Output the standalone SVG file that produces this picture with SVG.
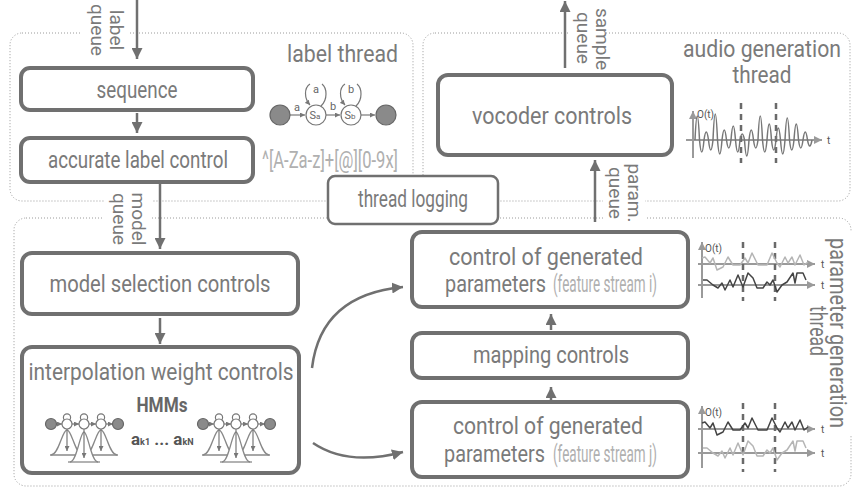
<svg xmlns="http://www.w3.org/2000/svg" width="853" height="489" viewBox="0 0 853 489">
<defs>
<style>
.t{font-family:Roboto,'Liberation Sans',sans-serif;fill:#7a7a7a;font-size:23px}
.box{fill:#fff;stroke:#707070;stroke-width:4}
.dot{fill:none;stroke:#9a9a9a;stroke-width:1;stroke-dasharray:1 2}
.arr{fill:none;stroke:#707070;stroke-width:2.5;marker-end:url(#ah)}
.sarr{fill:none;stroke:#777;stroke-width:1.2;marker-end:url(#sh)}
.q{font-size:19px}
.lt{fill:#b0b0b0}
.ax{fill:none;stroke:#9a9a9a;stroke-width:2;marker-end:url(#axh)}
.dash{fill:none;stroke:#6a6a6a;stroke-width:2.5;stroke-dasharray:6 5}
.sm{font-family:Roboto,'Liberation Sans',sans-serif;fill:#555;font-size:10px}
.wv{fill:none;stroke-width:1.5;stroke-linejoin:round}
.gc{fill:#8a8a8a;stroke:#666;stroke-width:1.2}
.wc{fill:#fff;stroke:#777;stroke-width:1.2}
</style>
<marker id="ah" viewBox="0 0 10 10" refX="10" refY="5" markerWidth="11" markerHeight="11" markerUnits="userSpaceOnUse" orient="auto"><path d="M0,0L10,5L0,10z" fill="#707070"/></marker>
<marker id="sh" viewBox="0 0 10 10" refX="10" refY="5" markerWidth="5" markerHeight="5" markerUnits="userSpaceOnUse" orient="auto"><path d="M0,0L10,5L0,10z" fill="#777"/></marker>
<marker id="axh" viewBox="0 0 10 10" refX="10" refY="5" markerWidth="8" markerHeight="8" markerUnits="userSpaceOnUse" orient="auto"><path d="M0,0L10,5L0,10z" fill="#9a9a9a"/></marker>
<path id="zA" d="M702,258 L705,257 L710,263 L713,258 L717,270 L723,267 L728,257 L733,265 L740,265 L745,258 L748,263 L752,253 L758,265 L767,265 L772,253 L777,263 L780,267 L785,257 L788,263 L792,257 L795,265 L800,255 L804,265 L808,262"/>
<path id="zB" d="M703,280 L707,280 L713,285 L718,288 L722,283 L725,290 L730,280 L733,287 L738,275 L743,287 L748,273 L753,278 L757,288 L763,288 L767,282 L770,285 L773,280 L777,292 L782,285 L787,282 L793,273 L795,283 L797,273 L803,273 L806,280"/>
<g id="hmmg">
<g fill="#fff" stroke="#888" stroke-width="1.3">
<path d="M51,455 C59,455 62,430 67,430 C72,430 75,455 83,455"/><path d="M50,455 H84" fill="none"/>
<path d="M85,455 C93,455 96,430 101,430 C106,430 109,455 117,455"/><path d="M84,455 H118" fill="none"/>
<path d="M70,462 C77,462 80,432 84,432 C88,432 91,462 98,462"/><path d="M68,462 H100" fill="none"/>
</g>
<path class="sarr" d="M67,429 V451"/><path class="sarr" d="M84,429 V458"/><path class="sarr" d="M101,429 V451"/>
<g fill="none" stroke="#777" stroke-width="1.2"><circle cx="67" cy="417.5" r="3.6"/><circle cx="84" cy="417.5" r="3.6"/><circle cx="101" cy="417.5" r="3.6"/></g>
<path class="sarr" d="M56,424 H62"/><path class="sarr" d="M72,424 H79"/><path class="sarr" d="M89,424 H96"/><path class="sarr" d="M106,424 H113"/>
<circle class="gc" cx="51" cy="424" r="5.5"/><circle class="gc" cx="118" cy="424" r="5.5"/>
<circle class="wc" cx="67" cy="424" r="5"/><circle class="wc" cx="84" cy="424" r="5"/><circle class="wc" cx="101" cy="424" r="5"/>
</g>
</defs>
<rect width="853" height="489" fill="#fff"/>

<g id="threads">
<rect class="dot" x="10" y="33" width="403" height="168" rx="12"/>
<rect class="dot" x="423" y="33" width="427" height="168" rx="12"/>
<rect class="dot" x="14" y="218" width="837" height="268" rx="12"/>
<rect x="82" y="0" width="46" height="62" fill="#fff"/>
<rect x="104" y="186" width="48" height="64" fill="#fff"/>
<rect x="568" y="0" width="36" height="72" fill="#fff"/>
<rect x="603" y="164" width="42" height="60" fill="#fff"/>
<rect x="806" y="232" width="47" height="204" fill="#fff"/>
<text class="t" x="398" y="62" text-anchor="end" font-size="22" textLength="111" lengthAdjust="spacingAndGlyphs">label thread</text>
<text class="t" x="762" y="57" text-anchor="middle" textLength="158" lengthAdjust="spacingAndGlyphs">audio generation</text>
<text class="t" x="762" y="83" text-anchor="middle" textLength="59" lengthAdjust="spacingAndGlyphs">thread</text>
<g transform="rotate(90)">
<text class="t" x="333" y="-830" text-anchor="middle" font-size="22" textLength="190" lengthAdjust="spacingAndGlyphs">parameter generation</text>
<text class="t" x="331" y="-810" text-anchor="middle" font-size="22" textLength="50" lengthAdjust="spacingAndGlyphs">thread</text>
</g>
</g>

<g id="connectors">
<path class="arr" d="M137,0 V59"/>
<path class="arr" d="M137,113 V133"/>
<path class="arr" d="M160,183 V249"/>
<path class="arr" d="M160,318 V344"/>
<path class="arr" d="M312,368 C318,318 350,292 403,287"/>
<path class="arr" d="M313,443 C335,458 365,462 403,452"/>
<path class="arr" d="M551,400 V387"/>
<path class="arr" d="M551,330 V314"/>
<path class="arr" d="M595,222 V160"/>
<path class="arr" d="M565,68 V1"/>
<g transform="rotate(90)">
<text class="t q" x="30" y="-110" text-anchor="middle">label</text>
<text class="t q" x="30" y="-91" text-anchor="middle">queue</text>
<text class="t q" x="219" y="-132" text-anchor="middle">model</text>
<text class="t q" x="219" y="-113" text-anchor="middle">queue</text>
<text class="t q" x="39" y="-596" text-anchor="middle">sample</text>
<text class="t q" x="38" y="-577" text-anchor="middle">queue</text>
<text class="t q" x="193" y="-628" text-anchor="middle">param.</text>
<text class="t q" x="193" y="-609" text-anchor="middle">queue</text>
</g>
</g>

<g id="sequence">
<rect class="box" x="21" y="68" width="232" height="42" rx="9"/>
<text class="t" x="137" y="98" text-anchor="middle" textLength="81" lengthAdjust="spacingAndGlyphs">sequence</text>
</g>
<g id="accurate-label-control">
<rect class="box" x="21" y="138" width="232" height="44" rx="9"/>
<text class="t" x="138" y="168" text-anchor="middle" textLength="180" lengthAdjust="spacingAndGlyphs">accurate label control</text>
</g>
<g id="regex">
<text class="t lt" x="330" y="168" text-anchor="middle" font-size="19" textLength="136" lengthAdjust="spacingAndGlyphs">^[A-Za-z]+[@][0-9x]</text>
</g>
<g id="state-diagram">
<path class="sarr" d="M290,115 H305"/>
<path class="sarr" d="M326,115 H340"/>
<path class="sarr" d="M361,115 H375"/>
<path fill="none" stroke="#777" stroke-width="1.2" d="M321,106 C328,99 327,88 322,84"/>
<path class="sarr" d="M310,84 C304,88 304,98 310,105"/>
<path fill="none" stroke="#777" stroke-width="1.2" d="M356,106 C363,99 362,88 357,84"/>
<path class="sarr" d="M345,84 C339,88 339,98 345,105"/>
<circle class="gc" cx="280" cy="115" r="10"/>
<circle class="wc" cx="316" cy="115" r="10"/>
<circle class="wc" cx="351" cy="115" r="10"/>
<circle class="gc" cx="386" cy="115" r="10"/>
<g font-family="Roboto,'Liberation Sans',sans-serif" fill="#666" text-anchor="middle">
<text x="315" y="119" font-size="11">S<tspan font-size="8">a</tspan></text>
<text x="350" y="119" font-size="11">S<tspan font-size="8">b</tspan></text>
<text x="297" y="111" font-size="11">a</text>
<text x="333" y="110" font-size="11">b</text>
<text x="316" y="93" font-size="11">a</text>
<text x="351" y="93" font-size="11">b</text>
</g>
</g>

<g id="model-selection-controls">
<rect class="box" x="22" y="253" width="276" height="61" rx="10"/>
<text class="t" x="160" y="292" text-anchor="middle" textLength="221" lengthAdjust="spacingAndGlyphs">model selection controls</text>
</g>
<g id="interpolation-weight-controls">
<rect class="box" x="22" y="347" width="277" height="126" rx="10"/>
<text class="t" x="161" y="380" text-anchor="middle" textLength="265" lengthAdjust="spacingAndGlyphs">interpolation weight controls</text>
<text x="162" y="412" text-anchor="middle" font-family="Roboto,'Liberation Sans',sans-serif" font-weight="bold" font-size="20" fill="#666" textLength="51" lengthAdjust="spacingAndGlyphs">HMMs</text>
<use href="#hmmg"/>
<use href="#hmmg" transform="translate(152,0)"/>
<text x="131" y="445" font-family="Roboto,'Liberation Sans',sans-serif" font-weight="bold" font-size="17" fill="#555">a<tspan font-size="9">k1</tspan> ... a<tspan font-size="9">kN</tspan></text>
</g>

<g id="thread-logging">
<rect x="328" y="176" width="170" height="48" rx="7" fill="#fff" stroke="#707070" stroke-width="2.5"/>
<text class="t" x="413" y="207" text-anchor="middle" font-size="21" textLength="110" lengthAdjust="spacingAndGlyphs">thread logging</text>
</g>

<g id="vocoder-controls">
<rect class="box" x="438" y="75" width="234" height="80" rx="10"/>
<text class="t" x="552" y="124" text-anchor="middle" font-size="26" textLength="160" lengthAdjust="spacingAndGlyphs">vocoder controls</text>
</g>
<g id="audio-plot">
<path class="ax" d="M693,158 V111"/>
<path class="ax" d="M686,140 H822"/>
<path class="dash" d="M741,103 V163"/>
<path class="dash" d="M776,103 V163"/>
<path class="wv" stroke="#777" stroke-width="1" d="M695,140 Q697.25,92 699.5,140 Q701.75,164 704,140 Q706.25,124 708.5,140 Q710.75,160 713,140 Q715.25,88 717.5,140 Q719.75,168 722,140 Q724.25,120 726.5,140 Q728.75,156 731,140 Q733.25,112 735.5,140 Q737.75,164 740,140 Q742.25,128 744.5,140 Q746.75,172 749,140 Q751.25,120 753.5,140 Q755.75,156 758,140 Q760.25,92 762.5,140 Q764.75,164 767,140 Q769.25,108 771.5,140 Q773.75,160 776,140 Q778.25,116 780.5,140 Q782.75,168 785,140 Q787.25,96 789.5,140 Q791.75,160 794,140 Q796.25,108 798.5,140 Q800.75,156 803,140 Q805.25,124 807.5,140 Q809.75,152 812,140"/>
<text class="sm" x="697" y="118">O(t)</text>
<text class="sm" x="827" y="144" font-size="11">t</text>
</g>

<g id="control-generated-i">
<rect class="box" x="412" y="232" width="276" height="75" rx="10"/>
<text class="t" x="546" y="265" text-anchor="middle" textLength="194" lengthAdjust="spacingAndGlyphs">control of generated</text>
<text class="t" x="445" y="292" textLength="101" lengthAdjust="spacingAndGlyphs">parameters</text>
<text class="t lt" x="553" y="292" font-size="16" textLength="104" lengthAdjust="spacingAndGlyphs">(feature stream i)</text>
</g>
<g id="plot-i">
<path class="ax" d="M702,298 V242"/>
<path class="ax" d="M698,264 H815"/>
<path class="ax" d="M698,285 H815"/>
<path class="dash" d="M743,242 V301"/>
<path class="dash" d="M775,242 V301"/>
<use href="#zA" class="wv" stroke="#b5b5b5"/>
<use href="#zB" class="wv" stroke="#444"/>
<text class="sm" x="705" y="252">O(t)</text>
<text class="sm" x="821" y="268" font-size="11">t</text>
<text class="sm" x="821" y="289" font-size="11">t</text>
</g>

<g id="mapping-controls">
<rect class="box" x="412" y="333" width="276" height="45" rx="10"/>
<text class="t" x="551" y="363" text-anchor="middle" textLength="156" lengthAdjust="spacingAndGlyphs">mapping controls</text>
</g>

<g id="control-generated-j">
<rect class="box" x="412" y="402" width="276" height="75" rx="10"/>
<text class="t" x="548" y="434" text-anchor="middle" textLength="190" lengthAdjust="spacingAndGlyphs">control of generated</text>
<text class="t" x="444" y="462" textLength="101" lengthAdjust="spacingAndGlyphs">parameters</text>
<text class="t lt" x="553" y="462" font-size="16" textLength="104" lengthAdjust="spacingAndGlyphs">(feature stream j)</text>
</g>
<g id="plot-j">
<path class="ax" d="M702,468 V406"/>
<path class="ax" d="M698,429 H815"/>
<path class="ax" d="M698,453 H815"/>
<path class="dash" d="M743,403 V472"/>
<path class="dash" d="M775,403 V472"/>
<use href="#zA" class="wv" stroke="#444" transform="translate(0,165)"/>
<use href="#zB" class="wv" stroke="#b5b5b5" transform="translate(0,168)"/>
<text class="sm" x="705" y="416">O(t)</text>
<text class="sm" x="821" y="433" font-size="11">t</text>
<text class="sm" x="821" y="457" font-size="11">t</text>
</g>
</svg>
